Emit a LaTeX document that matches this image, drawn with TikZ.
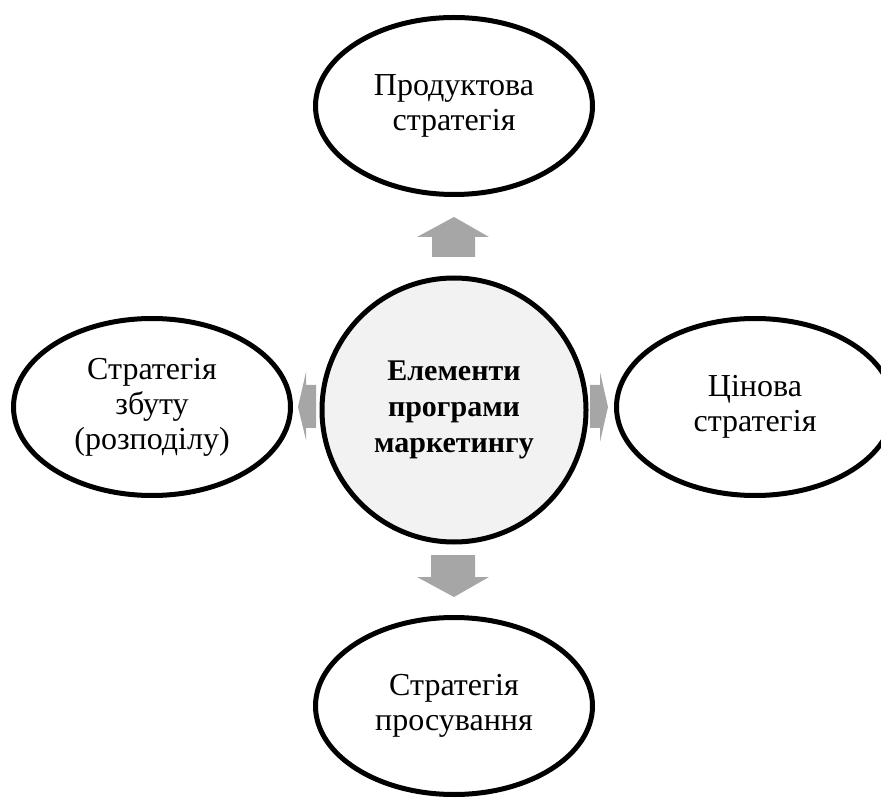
\documentclass[tikz,border=0pt]{standalone}
\usepackage{fontspec}
\setmainfont{Liberation Serif}
\usetikzlibrary{shapes.geometric}
\definecolor{arrowgray}{HTML}{A6A6A6}
\definecolor{hubfill}{HTML}{F2F2F2}
\tikzset{
  oval/.style={ellipse, draw=black, line width=5pt, fill=white,
    minimum width=277pt, minimum height=177pt, inner sep=0pt,
    align=center, font=\fontsize{32}{35}\selectfont},
  hub/.style={circle, draw=black, line width=5pt, fill=hubfill,
    minimum size=264pt, inner sep=0pt, align=center,
    font=\fontsize{30}{36}\selectfont\bfseries},
  blockarrow/.style={fill=arrowgray, draw=none}
}
\begin{document}
\begin{tikzpicture}[x=1pt, y=-1pt]
\useasboundingbox (0,0) rectangle (881,799);

% block arrows pointing out of the hub
\fill[blockarrow] (432,257) -- (432,237) -- (417,237) -- (454,217) -- (489,237) -- (475,237) -- (475,257) -- cycle;
\fill[blockarrow] (431,555) -- (475,555) -- (475,577) -- (489,577) -- (454,597) -- (417,577) -- (431,577) -- cycle;
\fill[blockarrow] (316,385) -- (306,385) -- (306,372) -- (298,407) -- (306,440) -- (306,428) -- (316,428) -- cycle;
\fill[blockarrow] (590,385) -- (600,385) -- (600,372) -- (608,407) -- (600,442) -- (600,428) -- (590,428) -- cycle;

% hub and the four strategies
\node[hub] (hub) at (454,410) {Елементи\\програми\\маркетингу};
\node[oval] (product) at (454,106) {Продуктова\\стратегія};
\node[oval] (promo) at (454,706) {Стратегія\\просування};
\node[oval] (sales) at (152,407) {Стратегія\\збуту\\(розподілу)};
\node[oval] (price) at (755,407) {Цінова\\стратегія};
\end{tikzpicture}
\end{document}
